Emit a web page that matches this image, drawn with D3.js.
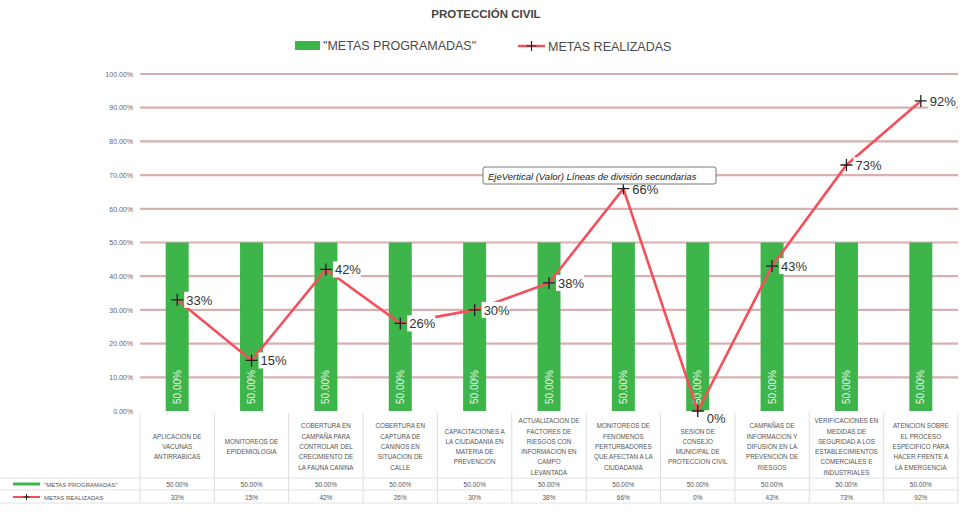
<!DOCTYPE html>
<html><head><meta charset="utf-8">
<script src="https://cdn.jsdelivr.net/npm/d3@7"></script>
<style>body{margin:0;background:#fff}svg{display:block;font-family:"Liberation Sans",Arial,sans-serif}</style>
</head><body>
<svg id="c" width="963" height="516"></svg>
<script>
const categories = [
  ["APLICACION DE","VACUNAS","ANTIRRABICAS"],
  ["MONITOREOS DE","EPIDEMIOLOGIA"],
  ["COBERTURA EN","CAMPAÑA PARA","CONTROLAR  DEL","CRECIMIENTO DE","LA FAUNA CANINA"],
  ["COBERTURA EN","CAPTURA DE","CANINOS EN","SITUACION DE","CALLE"],
  ["CAPACITACIONES A","LA CIUDADANIA EN","MATERIA DE","PREVENCION"],
  ["ACTUALIZACION DE","FACTORES DE","RIESGOS CON","INFORMACION EN","CAMPO","LEVANTADA"],
  ["MONITOREOS DE","FENOMENOS","PERTURBADORES","QUE AFECTAN A LA","CIUDADANIA"],
  ["SESION DE","CONSEJO","MUNICIPAL DE","PROTECCION CIVIL"],
  ["CAMPAÑAS DE","INFORMACION Y","DIFUSION EN LA","PREVENCION DE","RIESGOS"],
  ["VERIFICACIONES EN","MEDIDAS DE","SEGURIDAD A LOS","ESTABLECIMIENTOS","COMERCIALES E","INDUSTRIALES"],
  ["ATENCION SOBRE","EL PROCESO","ESPECIFICO PARA","HACER FRENTE A","LA EMERGENCIA"]
];
const programadas = [0.5,0.5,0.5,0.5,0.5,0.5,0.5,0.5,0.5,0.5,0.5];
const realizadas = [0.33,0.15,0.42,0.26,0.30,0.38,0.66,0.00,0.43,0.73,0.92];
const yTicks = [0,0.1,0.2,0.3,0.4,0.5,0.6,0.7,0.8,0.9,1.0];
const seriesNames = ["\"METAS PROGRAMADAS\"","METAS REALIZADAS"];
const title = "PROTECCIÓN CIVIL";
const tooltipText = "EjeVertical (Valor)  Líneas de división secundarias";

const svg = d3.select("#c");
const idx = d3.range(categories.length);
const x = d3.scaleBand().domain(idx).range([140,958]).padding(0);
const y = d3.scaleLinear().domain([0,1]).range([411,74]);
const green = "#3db54a", red = "#f4505c", grid = "#d9b0b0";
const pct2 = d3.format(".2%"), pct0 = d3.format(".0%");

// title
svg.append("text").attr("x",486).attr("y",18).attr("text-anchor","middle")
  .attr("font-size",11.5).attr("font-weight","bold").attr("fill","#444").text(title);
// legend
svg.append("rect").attr("x",295).attr("y",41).attr("width",25).attr("height",9).attr("fill",green);
svg.append("text").attr("x",323).attr("y",50).attr("font-size",12.5).attr("fill","#4a4a4a").text(seriesNames[0]);
svg.append("line").attr("x1",518).attr("x2",545).attr("y1",46).attr("y2",46).attr("stroke",red).attr("stroke-width",2.5);
svg.append("path").attr("d","M531.5,41V51M526.5,46H536.5").attr("stroke","#222").attr("stroke-width",1.2);
svg.append("text").attr("x",548).attr("y",51).attr("font-size",12.5).attr("fill","#4a4a4a").text(seriesNames[1]);

// gridlines
svg.append("g").selectAll("line").data(yTicks.slice(1)).join("line")
  .attr("x1",140).attr("x2",958).attr("y1",d=>y(d)).attr("y2",d=>y(d))
  .attr("stroke",grid).attr("stroke-width",2.2);
// y axis labels
const yAxis = d3.axisLeft(y).tickValues(yTicks).tickFormat(pct2).tickSize(0).tickPadding(7);
const ya = svg.append("g").attr("transform","translate(140,0)").call(yAxis);
ya.select(".domain").remove();
ya.selectAll("text").attr("font-size",7).attr("fill","#666").attr("font-family","Liberation Sans, Arial");

// bars
const bw = 23;
svg.append("g").selectAll("rect").data(programadas).join("rect")
  .attr("x",(d,i)=>x(i)+x.bandwidth()/2-bw/2).attr("width",bw)
  .attr("y",d=>y(d)).attr("height",d=>y(0)-y(d)).attr("fill",green);
svg.append("g").selectAll("text").data(programadas).join("text")
  .attr("transform",(d,i)=>`translate(${x(i)+x.bandwidth()/2+3.5},${y(0)-24}) rotate(-90)`)
  .attr("text-anchor","middle").attr("font-size",10).attr("fill","#e8f5e8").text(d=>pct2(d));

// line
const line = d3.line().x((d,i)=>x(i)+x.bandwidth()/2).y(d=>y(d));
svg.append("path").datum(realizadas).attr("d",line).attr("fill","none").attr("stroke",red).attr("stroke-width",2.6);
svg.append("g").selectAll("path").data(realizadas).join("path")
  .attr("d",(d,i)=>{const cx=x(i)+x.bandwidth()/2, cy=y(d);return `M${cx},${cy-6}V${cy+6}M${cx-6},${cy}H${cx+6}`;})
  .attr("stroke","#222").attr("stroke-width",1.3);
// data labels
const lg = svg.append("g").selectAll("g").data(realizadas).join("g")
  .attr("transform",(d,i)=>`translate(${x(i)+x.bandwidth()/2+8},${y(d)+(d===0?7:0)})`);
lg.append("rect").attr("x",-1).attr("y",-8).attr("width",28).attr("height",16).attr("fill","#fff");
lg.append("text").attr("x",1).attr("y",5).attr("font-size",13).attr("fill","#333").text(d=>pct0(d));

// tooltip
const tt = svg.append("g").attr("transform","translate(483,167)");
tt.append("rect").attr("width",233).attr("height",17).attr("rx",2).attr("fill","#fff").attr("stroke","#777").attr("stroke-width",1);
tt.append("text").attr("x",5).attr("y",12.5).attr("font-size",9.5).attr("fill","#222").attr("font-style","italic").text(tooltipText);

// data table
const tg = svg.append("g");
const bounds = idx.map(i=>x(i)).concat([958]);
tg.selectAll("line.v").data(bounds).join("line").attr("class","v")
  .attr("x1",d=>d).attr("x2",d=>d).attr("y1",413).attr("y2",503).attr("stroke","#ddd").attr("stroke-width",1);
tg.selectAll("line.h").data([478,490,503]).join("line").attr("class","h")
  .attr("x1",0).attr("x2",958).attr("y1",d=>d).attr("y2",d=>d).attr("stroke","#e2e2e2").attr("stroke-width",1);
const catText = tg.selectAll("text.cat").data(categories).join("text").attr("class","cat")
  .attr("text-anchor","middle").attr("font-size",6.3).attr("fill","#555");
catText.each(function(lines,i){
  const cx = x(i)+x.bandwidth()/2, lh = 10.3, y0 = 447 - (lines.length-1)*lh/2;
  d3.select(this).selectAll("tspan").data(lines).join("tspan")
    .attr("x",cx).attr("y",(d,j)=>y0+j*lh+2).text(d=>d);
});
tg.selectAll("text.r1").data(programadas).join("text").attr("class","r1")
  .attr("x",(d,i)=>x(i)+x.bandwidth()/2).attr("y",487).attr("text-anchor","middle")
  .attr("font-size",6.5).attr("fill","#555").text(d=>pct2(d));
tg.selectAll("text.r2").data(realizadas).join("text").attr("class","r2")
  .attr("x",(d,i)=>x(i)+x.bandwidth()/2).attr("y",500).attr("text-anchor","middle")
  .attr("font-size",6.5).attr("fill","#555").text(d=>pct0(d));
// table legend keys
tg.append("line").attr("x1",13).attr("x2",40).attr("y1",484).attr("y2",484).attr("stroke",green).attr("stroke-width",3);
tg.append("text").attr("x",44).attr("y",486.5).attr("font-size",6).attr("fill","#555").text(seriesNames[0]);
tg.append("line").attr("x1",13).attr("x2",40).attr("y1",497).attr("y2",497).attr("stroke",red).attr("stroke-width",2);
tg.append("path").attr("d","M26.5,494V500M23.5,497H29.5").attr("stroke","#222").attr("stroke-width",1);
tg.append("text").attr("x",44).attr("y",499.5).attr("font-size",6).attr("fill","#555").text(seriesNames[1]);
</script>
</body></html>
